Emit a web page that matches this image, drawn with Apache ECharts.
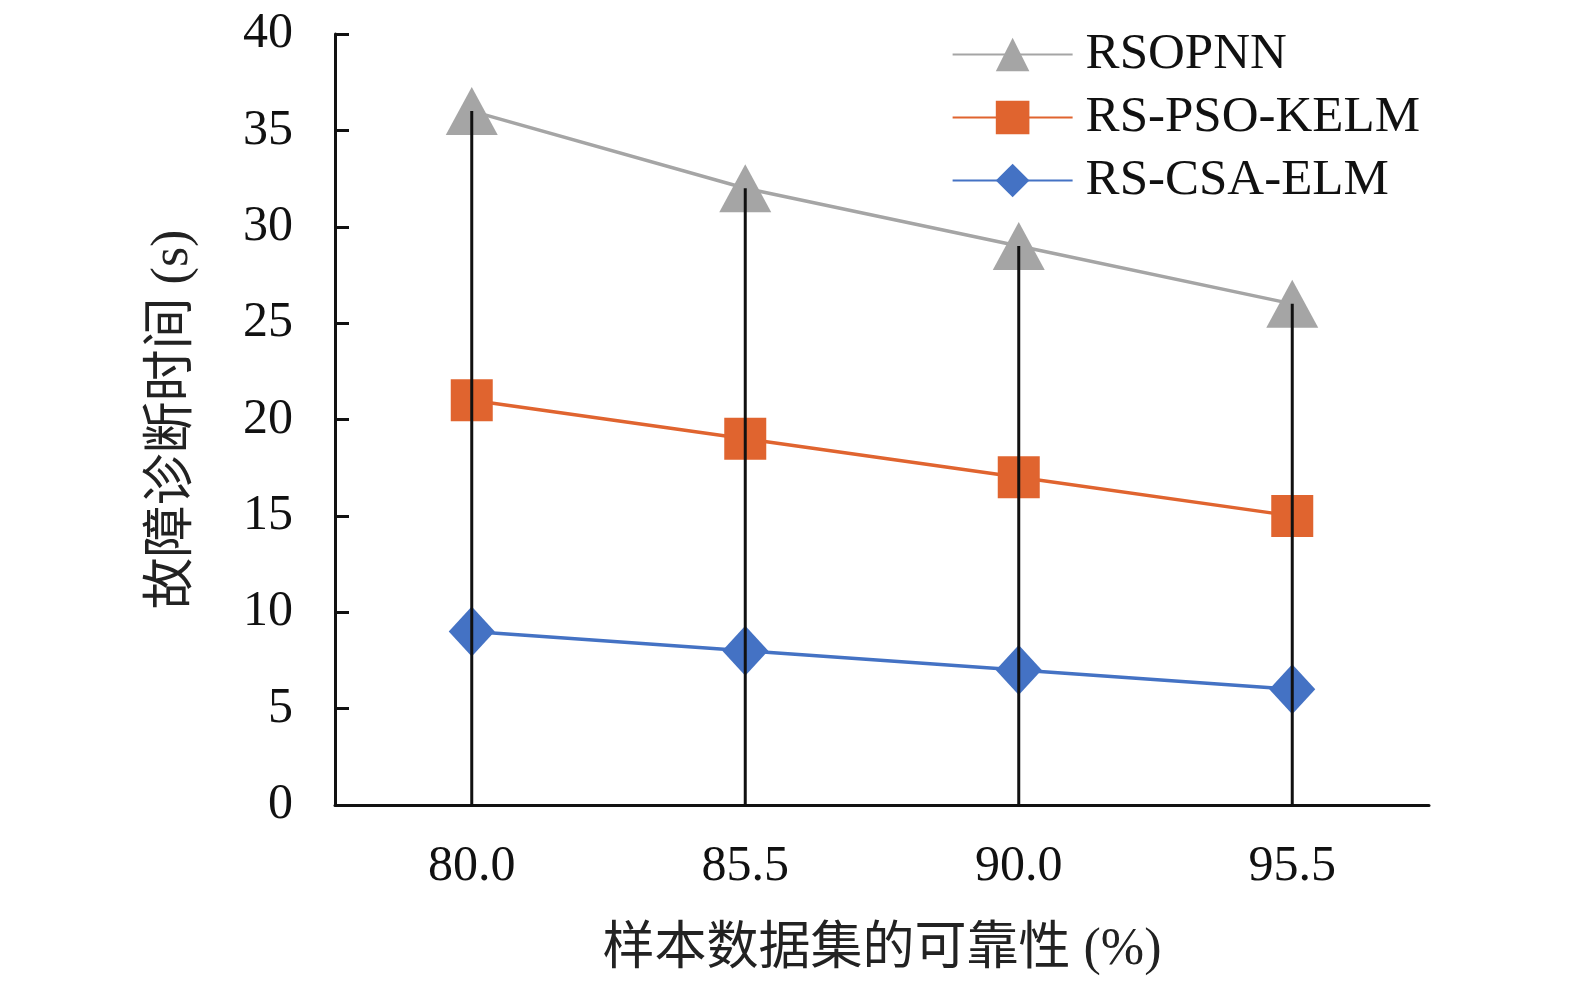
<!DOCTYPE html>
<html>
<head>
<meta charset="utf-8">
<script src="https://cdn.jsdelivr.net/npm/echarts@6/dist/echarts.min.js"></script>
<style>
  html, body { margin: 0; padding: 0; background: #fff; overflow: hidden; }
  #main { width: 1575px; height: 986px; }
</style>
</head>
<body>
<div id="main"></div>
<script>
var categories = ['80.0', '85.5', '90.0', '95.5'];
var rsopnn = [36, 32, 29, 26];
var rsPsoKelm = [21, 19, 17, 15];
var rsCsaElm = [9, 8, 7, 6];

var chart = echarts.init(document.getElementById('main'));
var serif = '"Liberation Serif", "Times New Roman", serif';
var cjk = '"Liberation Serif", "Noto Sans CJK SC", serif';

var option = {
  animation: false,
  backgroundColor: '#fff',
  grid: { left: 335, right: 146, top: 34, bottom: 181 },
  legend: {
    right: 150, top: 24, orient: 'vertical',
    itemWidth: 120, itemHeight: 42, itemGap: 12,
    data: ['RSOPNN', 'RS-PSO-KELM', 'RS-CSA-ELM'],
    textStyle: { fontFamily: serif, fontSize: 51, color: '#111', padding: [0, 0, 0, 8] }
  },
  xAxis: {
    type: 'category',
    data: categories,
    name: '样本数据集的可靠性 (%)',
    nameLocation: 'middle',
    nameGap: 119,
    nameTextStyle: { fontFamily: cjk, fontSize: 52, color: '#222' },
    axisLine: { lineStyle: { color: '#111', width: 3 } },
    axisTick: { show: false },
    axisLabel: { fontFamily: serif, fontSize: 50, color: '#111', margin: 37 }
  },
  yAxis: {
    type: 'value',
    min: 0, max: 40, interval: 5,
    name: '故障诊断时间 (s)',
    nameLocation: 'middle',
    nameGap: 136,
    nameTextStyle: { fontFamily: cjk, fontSize: 52, color: '#222' },
    axisLine: { show: true, lineStyle: { color: '#111', width: 3 } },
    axisTick: { show: true, inside: true, length: 14, lineStyle: { color: '#111', width: 3 } },
    splitLine: { show: false },
    axisLabel: { fontFamily: serif, fontSize: 50, color: '#111', margin: 42 }
  },
  series: [
    {
      name: 'RSOPNN', type: 'line', data: rsopnn,
      symbol: 'triangle', symbolSize: [52, 48],
      lineStyle: { color: '#a5a5a5', width: 3.5 },
      itemStyle: { color: '#a5a5a5' }, z: 2
    },
    {
      name: 'RS-PSO-KELM', type: 'line', data: rsPsoKelm,
      symbol: 'rect', symbolSize: 42,
      lineStyle: { color: '#e0642f', width: 3.5 },
      itemStyle: { color: '#e0642f' }, z: 2
    },
    {
      name: 'RS-CSA-ELM', type: 'line', data: rsCsaElm,
      symbol: 'diamond', symbolSize: [46, 50],
      lineStyle: { color: '#4472c4', width: 3.5 },
      itemStyle: { color: '#4472c4' }, z: 2
    },
    {
      name: 'drop', type: 'bar', data: rsopnn,
      barWidth: 3, itemStyle: { color: '#111' }, z: 10,
      silent: true
    }
  ]
};
chart.setOption(option);
</script>
</body>
</html>
